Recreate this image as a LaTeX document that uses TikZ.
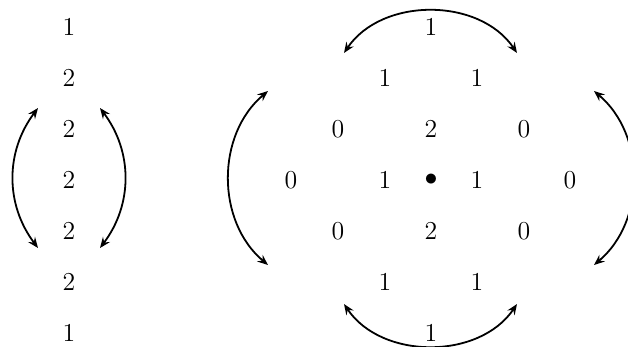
\documentclass[tikz,border=0pt]{standalone}
\usetikzlibrary{arrows.meta}
\begin{document}
\begin{tikzpicture}[x=0.019608cm,y=-0.019608cm,
  num/.style={font=\Large, inner sep=0pt},
  swaparc/.style={line width=1pt, {Stealth[length=2.1mm,width=1.7mm,inset=0.75mm]}-{Stealth[length=2.1mm,width=1.7mm,inset=0.75mm]}}]
\useasboundingbox (0,0) rectangle (628,347);
% left column
\node[num] (l1) at (69,27) {1};
\node[num] (l2) at (69,78) {2};
\node[num] (l3) at (69,129) {2};
\node[num] (l4) at (69,180) {2};
\node[num] (l5) at (69,231) {2};
\node[num] (l6) at (69,282) {2};
\node[num] (l7) at (69,333) {1};
% right grid
\node[num] (t) at (431,27) {1};
\node[num] (a1) at (385,78) {1};
\node[num] (a2) at (477,78) {1};
\node[num] (b1) at (338,129) {0};
\node[num] (b2) at (431,129) {2};
\node[num] (b3) at (524,129) {0};
\node[num] (c1) at (291,180) {0};
\node[num] (c2) at (385,180) {1};
\node[num] (c3) at (431,180) {$\bullet$};
\node[num] (c4) at (477,180) {1};
\node[num] (c5) at (570,180) {0};
\node[num] (d1) at (338,231) {0};
\node[num] (d2) at (431,231) {2};
\node[num] (d3) at (524,231) {0};
\node[num] (e1) at (385,282) {1};
\node[num] (e2) at (477,282) {1};
\node[num] (bt) at (431,333) {1};
% arc end points
\coordinate (p1) at (38,108);
\coordinate (p2) at (38,248);
\coordinate (p3) at (100,108);
\coordinate (p4) at (100,248);
\coordinate (q1) at (268,91);
\coordinate (q2) at (268,265);
\coordinate (q3) at (594,91);
\coordinate (q4) at (594,265);
\coordinate (r1) at (344,53);
\coordinate (r2) at (517,53);
\coordinate (r3) at (344,304);
\coordinate (r4) at (517,304);
% arcs
\draw[swaparc] (p1) to[bend right=37] (p2);
\draw[swaparc] (p3) to[bend left=37] (p4);
\draw[swaparc] (q1) to[bend right=50] (q2);
\draw[swaparc] (q3) to[bend left=50] (q4);
\draw[swaparc] (r1) to[bend left=56] (r2);
\draw[swaparc] (r3) to[bend right=56] (r4);
\end{tikzpicture}
\end{document}
